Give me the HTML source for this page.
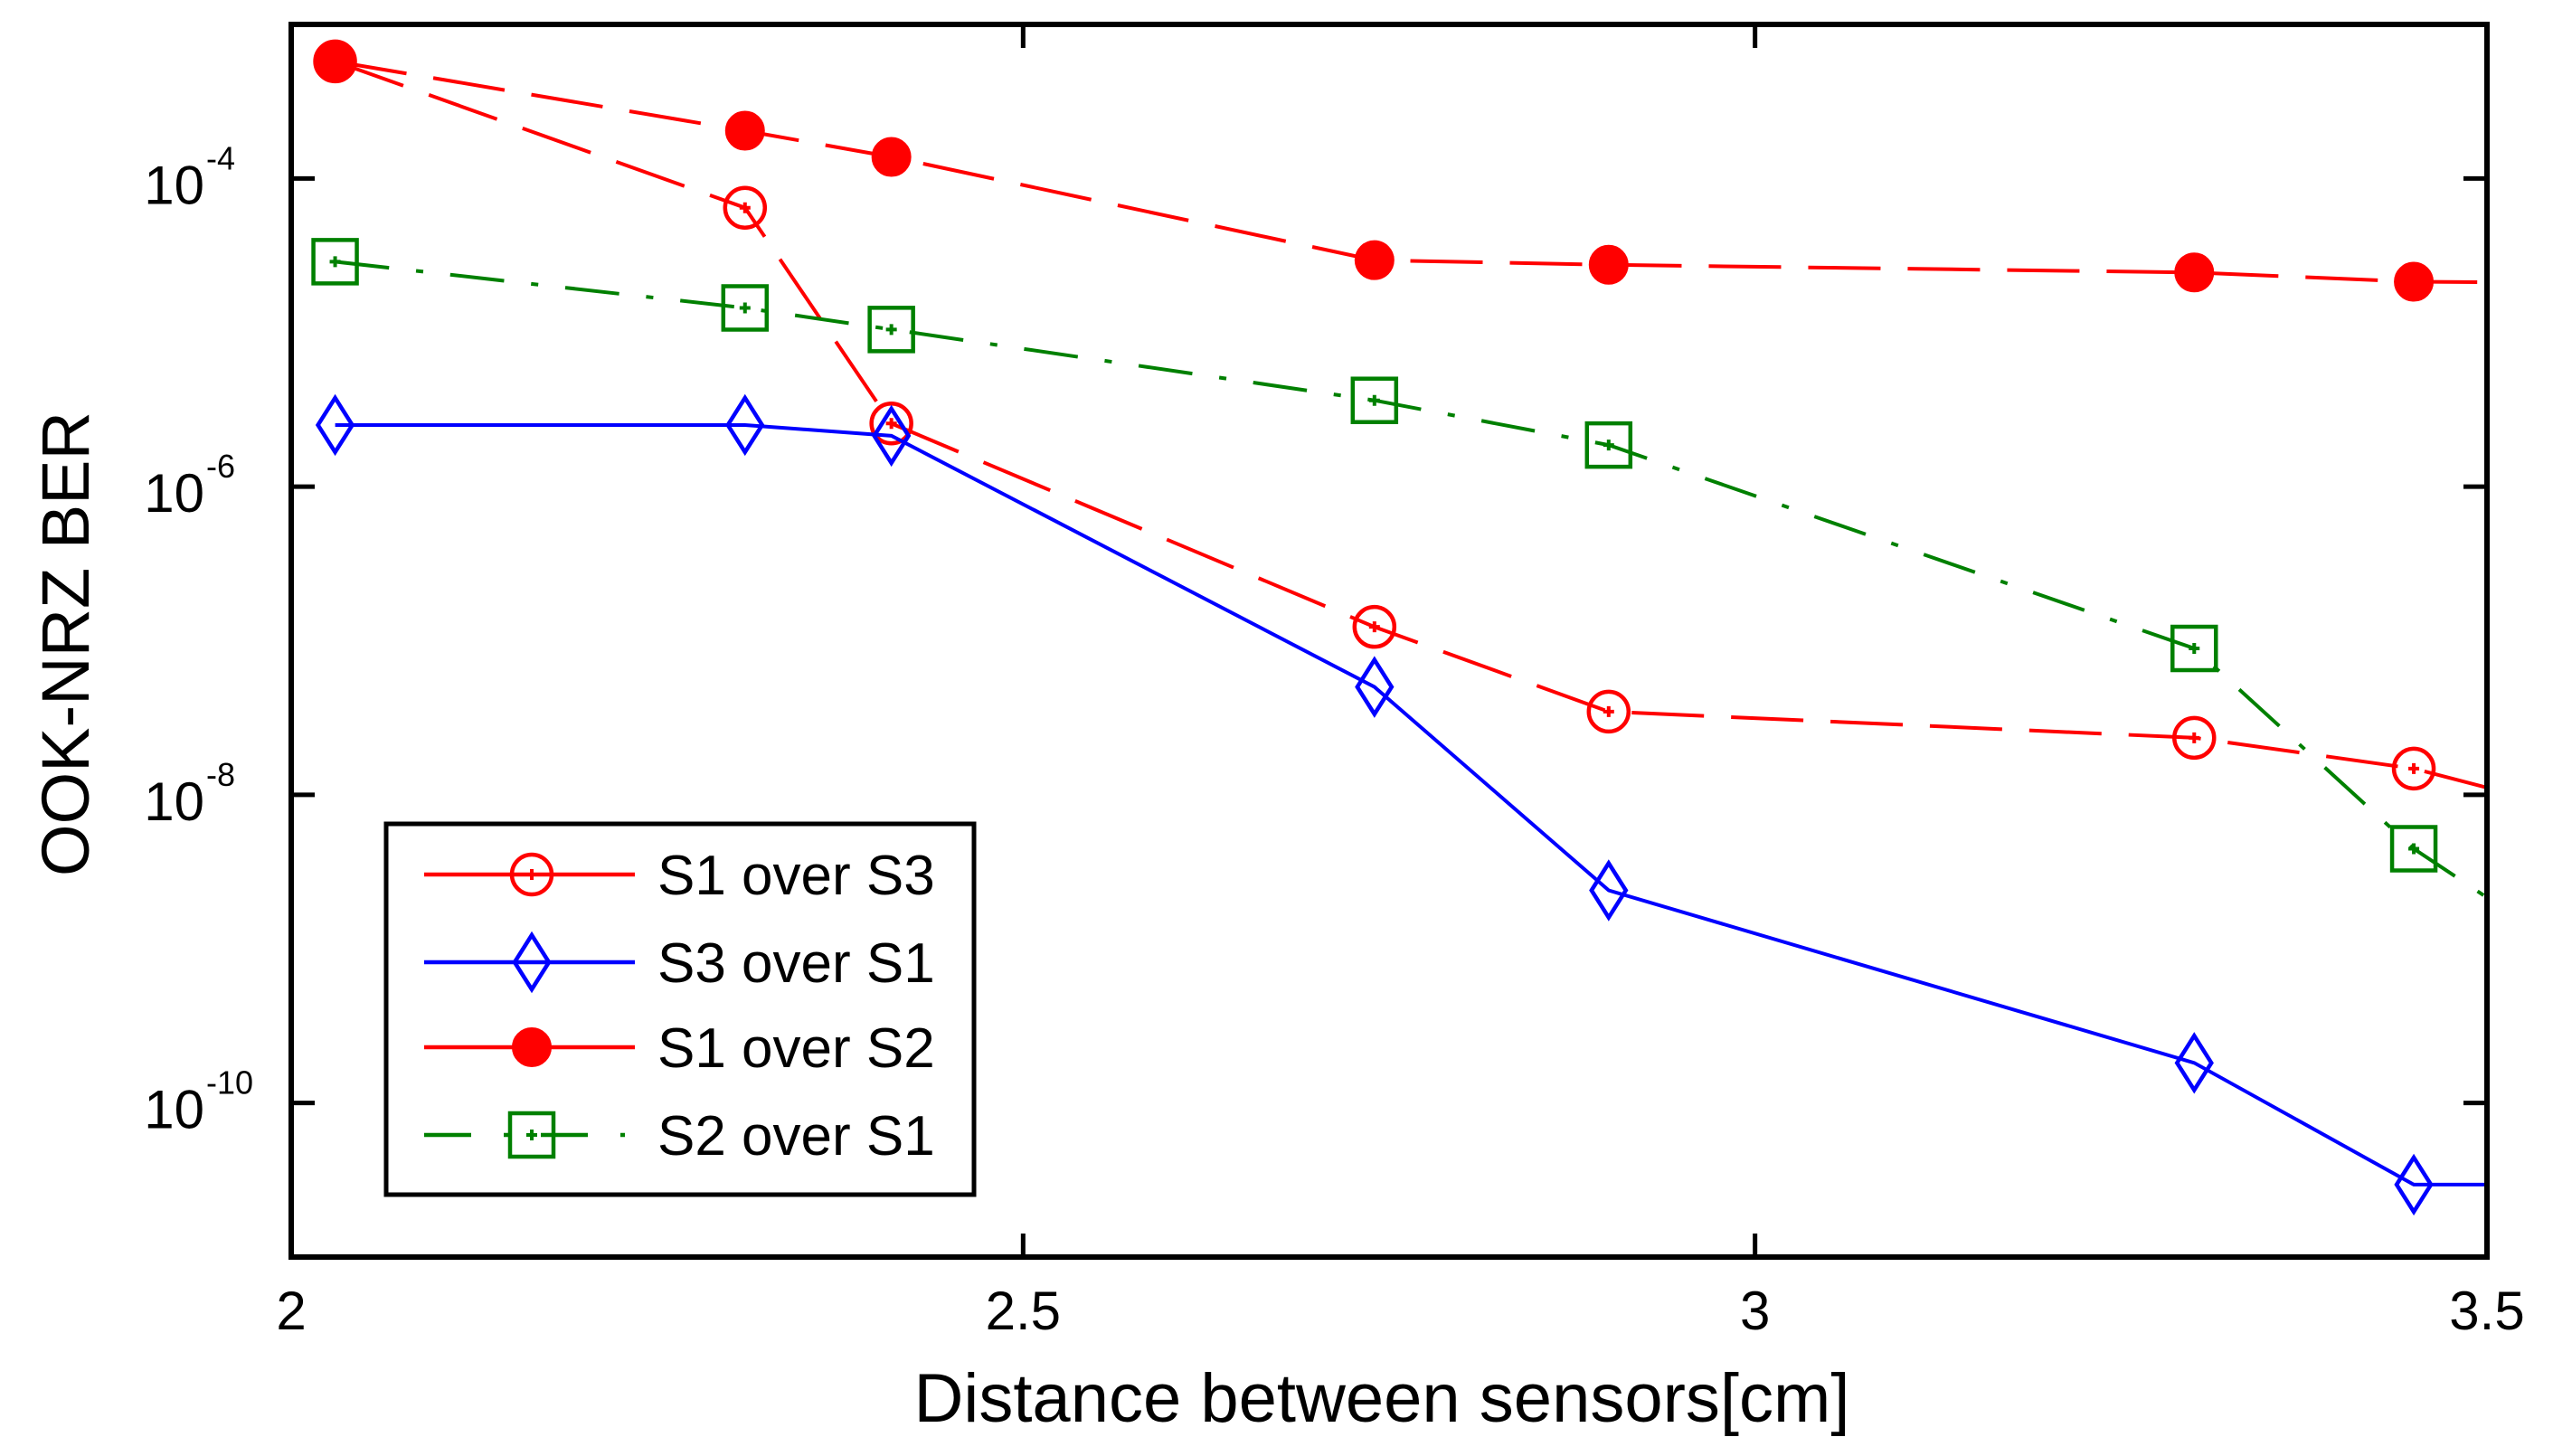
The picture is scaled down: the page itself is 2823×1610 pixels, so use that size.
<!DOCTYPE html>
<html><head><meta charset="utf-8"><style>
html,body{margin:0;padding:0;background:#fff;}
svg{display:block;font-family:"Liberation Sans",Arial,sans-serif;}
</style></head><body>
<svg id="chart" width="2823" height="1610" viewBox="0 0 2823 1610"></svg>
<script>
const xValues=[2.03,2.31,2.41,2.74,2.9,3.3,3.45,3.6];
const s1OverS3=[-3.24,-4.19,-5.59,-6.91,-7.46,-7.63,-7.83,-8.2];
const s3OverS1=[-5.60,-5.60,-5.67,-7.30,-8.62,-9.74,-10.53,-10.53];
const s1OverS2=[-3.24,-3.69,-3.86,-4.53,-4.56,-4.61,-4.67,-4.68];
const s2OverS1=[-4.54,-4.84,-4.98,-5.44,-5.73,-7.05,-8.35,-9.3];
const xTicks=[2,2.5,3,3.5];
const xTickLabels=["2","2.5","3","3.5"];
const yTicks=[-4,-6,-8,-10];
const seriesNames=["S1 over S3","S3 over S1","S1 over S2","S2 over S1"];

const L=322,R=2750,T=27,B=1390;
const X=v=>L+(v-2)/1.5*(R-L);
const Y=v=>T+(-3-v)/8*(B-T);
const NS="http://www.w3.org/2000/svg";
const svg=document.getElementById('chart');
function mk(tag,attrs,parent){const e=document.createElementNS(NS,tag);for(const k in attrs)e.setAttribute(k,attrs[k]);(parent||svg).appendChild(e);return e;}

const defs=mk('defs',{});
const cp=mk('clipPath',{id:'plotclip'},defs);
mk('rect',{x:L,y:T,width:R-L,height:B-T},cp);

const styles=[
 {data:s1OverS3,color:'#ff0000',dash:'80 30',marker:'circle',name:'series-s1-over-s3'},
 {data:s3OverS1,color:'#0000ff',dash:'',marker:'diamond',name:'series-s3-over-s1'},
 {data:s1OverS2,color:'#ff0000',dash:'80 30',marker:'filled',name:'series-s1-over-s2'},
 {data:s2OverS1,color:'#008000',dash:'60 30 8 30',marker:'square',name:'series-s2-over-s1'}
];
function marker(type,cx,cy,color,g){
 let e;
 if(type==='circle'){e=mk('circle',{cx,cy,r:22,fill:'none',stroke:color,'stroke-width':4.5},g);
  mk('path',{d:`M${cx-6} ${cy}H${cx+6}M${cx} ${cy-6}V${cy+6}`,stroke:color,'stroke-width':4},g);}
 else if(type==='filled'){e=mk('circle',{cx,cy,r:21,fill:color,stroke:color,'stroke-width':2},g);}
 else if(type==='diamond'){e=mk('path',{d:`M${cx} ${cy-30}L${cx+19} ${cy}L${cx} ${cy+30}L${cx-19} ${cy}Z`,fill:'none',stroke:color,'stroke-width':4.5},g);}
 else {e=mk('rect',{x:cx-24,y:cy-24,width:48,height:48,fill:'none',stroke:color,'stroke-width':4.5},g);
  mk('path',{d:`M${cx-6} ${cy}H${cx+6}M${cx} ${cy-6}V${cy+6}`,stroke:color,'stroke-width':4},g);}
 return e;
}
const plotG=mk('g',{'clip-path':'url(#plotclip)'});


styles.forEach(s=>{
 const g=mk('g',{},plotG);
 
 
 const d=s.data.map((v,i)=>(i?'L':'M')+X(xValues[i]).toFixed(1)+' '+Y(v).toFixed(1)).join('');
 const p=mk('path',{d,fill:'none',stroke:s.color,'stroke-width':4,'stroke-dasharray':s.dash},g);
 
 
 s.data.forEach((v,i)=>{const m=marker(s.marker,X(xValues[i]),Y(v),s.color,g);
  
  });
});

const box=mk('rect',{x:L,y:T,width:R-L,height:B-T,fill:'none',stroke:'#000','stroke-width':6});


yTicks.forEach(v=>{
 const tk=mk('path',{d:`M${L} ${Y(v)}h26M${R} ${Y(v)}h-26`,stroke:'#000','stroke-width':5});
 
 
 const t=mk('text',{x:226,y:Y(v)+28,'font-size':60,'text-anchor':'end',fill:'#000'});
 t.textContent='10';
 
 
 const s=mk('text',{x:228,y:Y(v)-10,'font-size':36,fill:'#000'});
 s.textContent=String(v);
 
 
});
xTicks.forEach((v,i)=>{
 const t=mk('path',{d:`M${X(v)} ${B}v-26M${X(v)} ${T}v26`,stroke:'#000','stroke-width':5});
 
 
 const l=mk('text',{x:X(v),y:1470,'font-size':60,'text-anchor':'middle',fill:'#000'});
 l.textContent=xTickLabels[i];
 
 
});
const xt=mk('text',{x:1528,y:1572,'font-size':76,'text-anchor':'middle',fill:'#000'});
xt.textContent='Distance between sensors[cm]';


const yt=mk('text',{x:0,y:0,'font-size':74,'text-anchor':'middle',fill:'#000',transform:'translate(98 712) rotate(-90)'});
yt.textContent='OOK-NRZ BER';



const lg=mk('g',{});


mk('rect',{x:427,y:911,width:650,height:410,fill:'#fff',stroke:'#000','stroke-width':5},lg);
const ly=[967,1064,1158,1255];
styles.forEach((s,i)=>{
 const g=mk('g',{},lg);
 
 
 mk('path',{d:`M469 ${ly[i]}H702`,stroke:s.color,'stroke-width':4.5,'stroke-dasharray':i===3?'52 36 5 36':''},g);
 marker(s.marker,588,ly[i],s.color,g);
 const t=mk('text',{x:727,y:ly[i]+22,'font-size':62,fill:'#000'},g);
 t.textContent=seriesNames[i];
});
</script>
</body></html>
